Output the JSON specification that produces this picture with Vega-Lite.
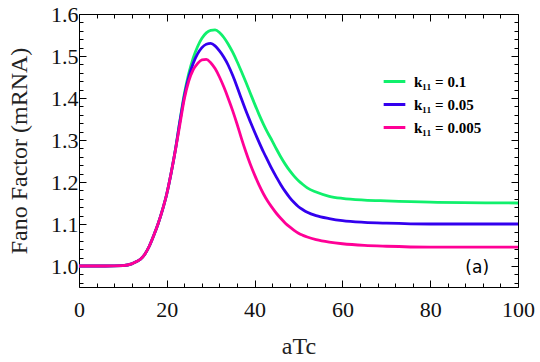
{
  "$schema": "https://vega.github.io/schema/vega-lite/v6.json",
  "width": 439,
  "height": 273,
  "autosize": "none",
  "padding": {"left": 79, "top": 14, "right": 22, "bottom": 75},
  "background": "white",
  "config": {
    "view": {"stroke": "black", "strokeWidth": 1},
    "font": "Times New Roman, Liberation Serif, serif",
    "axis": {"labelFont": "Times New Roman, Liberation Serif, serif", "titleFont": "Times New Roman, Liberation Serif, serif"},
    "legend": {"labelFont": "Times New Roman, Liberation Serif, serif"}
  },
  "datasets": {
    "curves": [
      {"x": 0, "y": 1.0, "k": "k₁₁ = 0.1"}, {"x": 6, "y": 1.0, "k": "k₁₁ = 0.1"}, {"x": 10, "y": 1.001, "k": "k₁₁ = 0.1"}, {"x": 12, "y": 1.005, "k": "k₁₁ = 0.1"}, {"x": 13, "y": 1.01, "k": "k₁₁ = 0.1"}, {"x": 14, "y": 1.016, "k": "k₁₁ = 0.1"}, {"x": 15, "y": 1.028, "k": "k₁₁ = 0.1"}, {"x": 16, "y": 1.047, "k": "k₁₁ = 0.1"}, {"x": 17, "y": 1.072, "k": "k₁₁ = 0.1"}, {"x": 18, "y": 1.1, "k": "k₁₁ = 0.1"}, {"x": 19, "y": 1.133, "k": "k₁₁ = 0.1"}, {"x": 20, "y": 1.172, "k": "k₁₁ = 0.1"}, {"x": 21, "y": 1.222, "k": "k₁₁ = 0.1"}, {"x": 22, "y": 1.28, "k": "k₁₁ = 0.1"}, {"x": 23, "y": 1.347, "k": "k₁₁ = 0.1"}, {"x": 24, "y": 1.41, "k": "k₁₁ = 0.1"}, {"x": 25, "y": 1.458, "k": "k₁₁ = 0.1"}, {"x": 26, "y": 1.495, "k": "k₁₁ = 0.1"}, {"x": 27, "y": 1.522, "k": "k₁₁ = 0.1"}, {"x": 28, "y": 1.542, "k": "k₁₁ = 0.1"}, {"x": 29, "y": 1.555, "k": "k₁₁ = 0.1"}, {"x": 30, "y": 1.561, "k": "k₁₁ = 0.1"}, {"x": 31, "y": 1.562, "k": "k₁₁ = 0.1"}, {"x": 32, "y": 1.556, "k": "k₁₁ = 0.1"}, {"x": 33, "y": 1.544, "k": "k₁₁ = 0.1"}, {"x": 34, "y": 1.528, "k": "k₁₁ = 0.1"}, {"x": 35, "y": 1.509, "k": "k₁₁ = 0.1"}, {"x": 36, "y": 1.487, "k": "k₁₁ = 0.1"}, {"x": 37, "y": 1.463, "k": "k₁₁ = 0.1"}, {"x": 38, "y": 1.438, "k": "k₁₁ = 0.1"}, {"x": 39, "y": 1.412, "k": "k₁₁ = 0.1"}, {"x": 40, "y": 1.386, "k": "k₁₁ = 0.1"}, {"x": 41, "y": 1.361, "k": "k₁₁ = 0.1"}, {"x": 42, "y": 1.338, "k": "k₁₁ = 0.1"}, {"x": 43, "y": 1.317, "k": "k₁₁ = 0.1"}, {"x": 44, "y": 1.298, "k": "k₁₁ = 0.1"}, {"x": 45, "y": 1.278, "k": "k₁₁ = 0.1"}, {"x": 46, "y": 1.259, "k": "k₁₁ = 0.1"}, {"x": 47, "y": 1.242, "k": "k₁₁ = 0.1"}, {"x": 48, "y": 1.227, "k": "k₁₁ = 0.1"}, {"x": 49, "y": 1.214, "k": "k₁₁ = 0.1"}, {"x": 50, "y": 1.203, "k": "k₁₁ = 0.1"}, {"x": 51, "y": 1.194, "k": "k₁₁ = 0.1"}, {"x": 52, "y": 1.186, "k": "k₁₁ = 0.1"}, {"x": 54, "y": 1.176, "k": "k₁₁ = 0.1"}, {"x": 57, "y": 1.166, "k": "k₁₁ = 0.1"}, {"x": 60, "y": 1.161, "k": "k₁₁ = 0.1"}, {"x": 65, "y": 1.157, "k": "k₁₁ = 0.1"}, {"x": 70, "y": 1.155, "k": "k₁₁ = 0.1"}, {"x": 80, "y": 1.152, "k": "k₁₁ = 0.1"}, {"x": 100, "y": 1.15, "k": "k₁₁ = 0.1"},
      {"x": 0, "y": 1.0, "k": "k₁₁ = 0.05"}, {"x": 6, "y": 1.0, "k": "k₁₁ = 0.05"}, {"x": 10, "y": 1.001, "k": "k₁₁ = 0.05"}, {"x": 12, "y": 1.005, "k": "k₁₁ = 0.05"}, {"x": 13, "y": 1.01, "k": "k₁₁ = 0.05"}, {"x": 14, "y": 1.016, "k": "k₁₁ = 0.05"}, {"x": 15, "y": 1.028, "k": "k₁₁ = 0.05"}, {"x": 16, "y": 1.047, "k": "k₁₁ = 0.05"}, {"x": 17, "y": 1.072, "k": "k₁₁ = 0.05"}, {"x": 18, "y": 1.1, "k": "k₁₁ = 0.05"}, {"x": 19, "y": 1.133, "k": "k₁₁ = 0.05"}, {"x": 20, "y": 1.172, "k": "k₁₁ = 0.05"}, {"x": 21, "y": 1.222, "k": "k₁₁ = 0.05"}, {"x": 22, "y": 1.279, "k": "k₁₁ = 0.05"}, {"x": 23, "y": 1.345, "k": "k₁₁ = 0.05"}, {"x": 24, "y": 1.405, "k": "k₁₁ = 0.05"}, {"x": 25, "y": 1.45, "k": "k₁₁ = 0.05"}, {"x": 26, "y": 1.482, "k": "k₁₁ = 0.05"}, {"x": 27, "y": 1.505, "k": "k₁₁ = 0.05"}, {"x": 28, "y": 1.52, "k": "k₁₁ = 0.05"}, {"x": 29, "y": 1.528, "k": "k₁₁ = 0.05"}, {"x": 30, "y": 1.53, "k": "k₁₁ = 0.05"}, {"x": 31, "y": 1.524, "k": "k₁₁ = 0.05"}, {"x": 32, "y": 1.512, "k": "k₁₁ = 0.05"}, {"x": 33, "y": 1.497, "k": "k₁₁ = 0.05"}, {"x": 34, "y": 1.478, "k": "k₁₁ = 0.05"}, {"x": 35, "y": 1.454, "k": "k₁₁ = 0.05"}, {"x": 36, "y": 1.427, "k": "k₁₁ = 0.05"}, {"x": 37, "y": 1.398, "k": "k₁₁ = 0.05"}, {"x": 38, "y": 1.37, "k": "k₁₁ = 0.05"}, {"x": 39, "y": 1.344, "k": "k₁₁ = 0.05"}, {"x": 40, "y": 1.319, "k": "k₁₁ = 0.05"}, {"x": 41, "y": 1.295, "k": "k₁₁ = 0.05"}, {"x": 42, "y": 1.272, "k": "k₁₁ = 0.05"}, {"x": 43, "y": 1.251, "k": "k₁₁ = 0.05"}, {"x": 44, "y": 1.23, "k": "k₁₁ = 0.05"}, {"x": 45, "y": 1.211, "k": "k₁₁ = 0.05"}, {"x": 46, "y": 1.193, "k": "k₁₁ = 0.05"}, {"x": 47, "y": 1.177, "k": "k₁₁ = 0.05"}, {"x": 48, "y": 1.163, "k": "k₁₁ = 0.05"}, {"x": 49, "y": 1.151, "k": "k₁₁ = 0.05"}, {"x": 50, "y": 1.141, "k": "k₁₁ = 0.05"}, {"x": 51, "y": 1.134, "k": "k₁₁ = 0.05"}, {"x": 52, "y": 1.128, "k": "k₁₁ = 0.05"}, {"x": 54, "y": 1.12, "k": "k₁₁ = 0.05"}, {"x": 57, "y": 1.113, "k": "k₁₁ = 0.05"}, {"x": 60, "y": 1.108, "k": "k₁₁ = 0.05"}, {"x": 65, "y": 1.104, "k": "k₁₁ = 0.05"}, {"x": 70, "y": 1.102, "k": "k₁₁ = 0.05"}, {"x": 80, "y": 1.1, "k": "k₁₁ = 0.05"}, {"x": 100, "y": 1.1, "k": "k₁₁ = 0.05"},
      {"x": 0, "y": 1.0, "k": "k₁₁ = 0.005"}, {"x": 6, "y": 1.0, "k": "k₁₁ = 0.005"}, {"x": 10, "y": 1.001, "k": "k₁₁ = 0.005"}, {"x": 12, "y": 1.005, "k": "k₁₁ = 0.005"}, {"x": 13, "y": 1.01, "k": "k₁₁ = 0.005"}, {"x": 14, "y": 1.016, "k": "k₁₁ = 0.005"}, {"x": 15, "y": 1.028, "k": "k₁₁ = 0.005"}, {"x": 16, "y": 1.047, "k": "k₁₁ = 0.005"}, {"x": 17, "y": 1.072, "k": "k₁₁ = 0.005"}, {"x": 18, "y": 1.1, "k": "k₁₁ = 0.005"}, {"x": 19, "y": 1.133, "k": "k₁₁ = 0.005"}, {"x": 20, "y": 1.172, "k": "k₁₁ = 0.005"}, {"x": 21, "y": 1.222, "k": "k₁₁ = 0.005"}, {"x": 22, "y": 1.278, "k": "k₁₁ = 0.005"}, {"x": 23, "y": 1.338, "k": "k₁₁ = 0.005"}, {"x": 24, "y": 1.398, "k": "k₁₁ = 0.005"}, {"x": 25, "y": 1.44, "k": "k₁₁ = 0.005"}, {"x": 26, "y": 1.467, "k": "k₁₁ = 0.005"}, {"x": 27, "y": 1.482, "k": "k₁₁ = 0.005"}, {"x": 28, "y": 1.491, "k": "k₁₁ = 0.005"}, {"x": 29, "y": 1.492, "k": "k₁₁ = 0.005"}, {"x": 30, "y": 1.484, "k": "k₁₁ = 0.005"}, {"x": 31, "y": 1.47, "k": "k₁₁ = 0.005"}, {"x": 32, "y": 1.45, "k": "k₁₁ = 0.005"}, {"x": 33, "y": 1.426, "k": "k₁₁ = 0.005"}, {"x": 34, "y": 1.399, "k": "k₁₁ = 0.005"}, {"x": 35, "y": 1.37, "k": "k₁₁ = 0.005"}, {"x": 36, "y": 1.338, "k": "k₁₁ = 0.005"}, {"x": 37, "y": 1.304, "k": "k₁₁ = 0.005"}, {"x": 38, "y": 1.272, "k": "k₁₁ = 0.005"}, {"x": 39, "y": 1.243, "k": "k₁₁ = 0.005"}, {"x": 40, "y": 1.217, "k": "k₁₁ = 0.005"}, {"x": 41, "y": 1.193, "k": "k₁₁ = 0.005"}, {"x": 42, "y": 1.172, "k": "k₁₁ = 0.005"}, {"x": 43, "y": 1.154, "k": "k₁₁ = 0.005"}, {"x": 44, "y": 1.139, "k": "k₁₁ = 0.005"}, {"x": 45, "y": 1.125, "k": "k₁₁ = 0.005"}, {"x": 46, "y": 1.113, "k": "k₁₁ = 0.005"}, {"x": 47, "y": 1.102, "k": "k₁₁ = 0.005"}, {"x": 48, "y": 1.093, "k": "k₁₁ = 0.005"}, {"x": 49, "y": 1.085, "k": "k₁₁ = 0.005"}, {"x": 50, "y": 1.078, "k": "k₁₁ = 0.005"}, {"x": 51, "y": 1.073, "k": "k₁₁ = 0.005"}, {"x": 52, "y": 1.069, "k": "k₁₁ = 0.005"}, {"x": 54, "y": 1.063, "k": "k₁₁ = 0.005"}, {"x": 57, "y": 1.057, "k": "k₁₁ = 0.005"}, {"x": 60, "y": 1.053, "k": "k₁₁ = 0.005"}, {"x": 65, "y": 1.049, "k": "k₁₁ = 0.005"}, {"x": 70, "y": 1.047, "k": "k₁₁ = 0.005"}, {"x": 80, "y": 1.045, "k": "k₁₁ = 0.005"}, {"x": 100, "y": 1.045, "k": "k₁₁ = 0.005"}
    ],
    "label": [{"x": 90.7, "y": 0.995, "t": "(a)"}]
  },
  "layer": [
    {
      "data": {"name": "curves"},
      "mark": {"type": "line", "strokeWidth": 2.8, "interpolate": "monotone", "clip": true},
      "encoding": {
        "x": {
          "field": "x", "type": "quantitative",
          "scale": {"domain": [0, 100], "nice": false, "zero": false},
          "axis": {
            "title": "aTc", "titleFontSize": 24, "titleFontWeight": "normal", "titleColor": "#222", "titlePadding": 11,
            "values": [0, 4, 8, 12, 16, 20, 24, 28, 32, 36, 40, 44, 48, 52, 56, 60, 64, 68, 72, 76, 80, 84, 88, 92, 96, 100],
            "labelExpr": "datum.value % 20 === 0 ? datum.label : ''",
            "labelFontSize": 22, "labelColor": "#111", "labelPadding": 19,
            "tickSize": {"condition": {"test": "datum.value % 20 === 0", "value": -7}, "value": -4},
            "tickColor": "black", "domain": false, "grid": false, "labelFlush": false, "labelOverlap": false
          }
        },
        "y": {
          "field": "y", "type": "quantitative",
          "scale": {"domain": [0.95, 1.6], "nice": false, "zero": false},
          "axis": {
            "title": "Fano Factor (mRNA)", "titleFontSize": 24, "titleFontWeight": "normal", "titleColor": "#222", "titlePadding": 19,
            "values": [0.96, 0.98, 1.0, 1.02, 1.04, 1.06, 1.08, 1.1, 1.12, 1.14, 1.16, 1.18, 1.2, 1.22, 1.24, 1.26, 1.28, 1.3, 1.32, 1.34, 1.36, 1.38, 1.4, 1.42, 1.44, 1.46, 1.48, 1.5, 1.52, 1.54, 1.56, 1.58, 1.6],
            "labelExpr": "abs(datum.value * 10 - round(datum.value * 10)) < 0.001 ? format(datum.value, '.1f') : ''",
            "labelFontSize": 22, "labelColor": "#111", "labelPadding": 8,
            "tickSize": {"condition": {"test": "abs(datum.value * 10 - round(datum.value * 10)) < 0.001", "value": -7}, "value": -4},
            "tickColor": "black", "domain": false, "grid": false, "labelFlush": false, "labelOverlap": false
          }
        },
        "color": {
          "field": "k", "type": "nominal",
          "scale": {"domain": ["k₁₁ = 0.1", "k₁₁ = 0.05", "k₁₁ = 0.005"], "range": ["#10f06c", "#3300ee", "#ff0096"]},
          "legend": {
            "title": null, "orient": "none", "legendX": 303, "legendY": 55,
            "symbolType": "stroke", "symbolStrokeWidth": 3, "symbolSize": 470,
            "labelFontSize": 15, "labelFontWeight": "bold", "labelColor": "black",
            "rowPadding": 2, "labelOffset": 7
          }
        }
      }
    },
    {
      "data": {"name": "label"},
      "mark": {"type": "text", "font": "DejaVu Sans", "fontSize": 17, "color": "black", "align": "center", "baseline": "middle"},
      "encoding": {
        "x": {"field": "x", "type": "quantitative", "axis": {"orient": "top", "values": [0, 4, 8, 12, 16, 20, 24, 28, 32, 36, 40, 44, 48, 52, 56, 60, 64, 68, 72, 76, 80, 84, 88, 92, 96, 100], "labels": false, "title": null, "domain": false, "grid": false, "tickColor": "black", "tickSize": {"condition": {"test": "datum.value % 20 === 0", "value": -7}, "value": -4}}},
        "y": {"field": "y", "type": "quantitative", "axis": {"orient": "right", "values": [0.96, 0.98, 1.0, 1.02, 1.04, 1.06, 1.08, 1.1, 1.12, 1.14, 1.16, 1.18, 1.2, 1.22, 1.24, 1.26, 1.28, 1.3, 1.32, 1.34, 1.36, 1.38, 1.4, 1.42, 1.44, 1.46, 1.48, 1.5, 1.52, 1.54, 1.56, 1.58, 1.6], "labels": false, "title": null, "domain": false, "grid": false, "tickColor": "black", "tickSize": {"condition": {"test": "abs(datum.value * 10 - round(datum.value * 10)) < 0.001", "value": -7}, "value": -4}}},
        "text": {"field": "t"}
      }
    }
  ],
  "resolve": {"axis": {"x": "independent", "y": "independent"}}
}
